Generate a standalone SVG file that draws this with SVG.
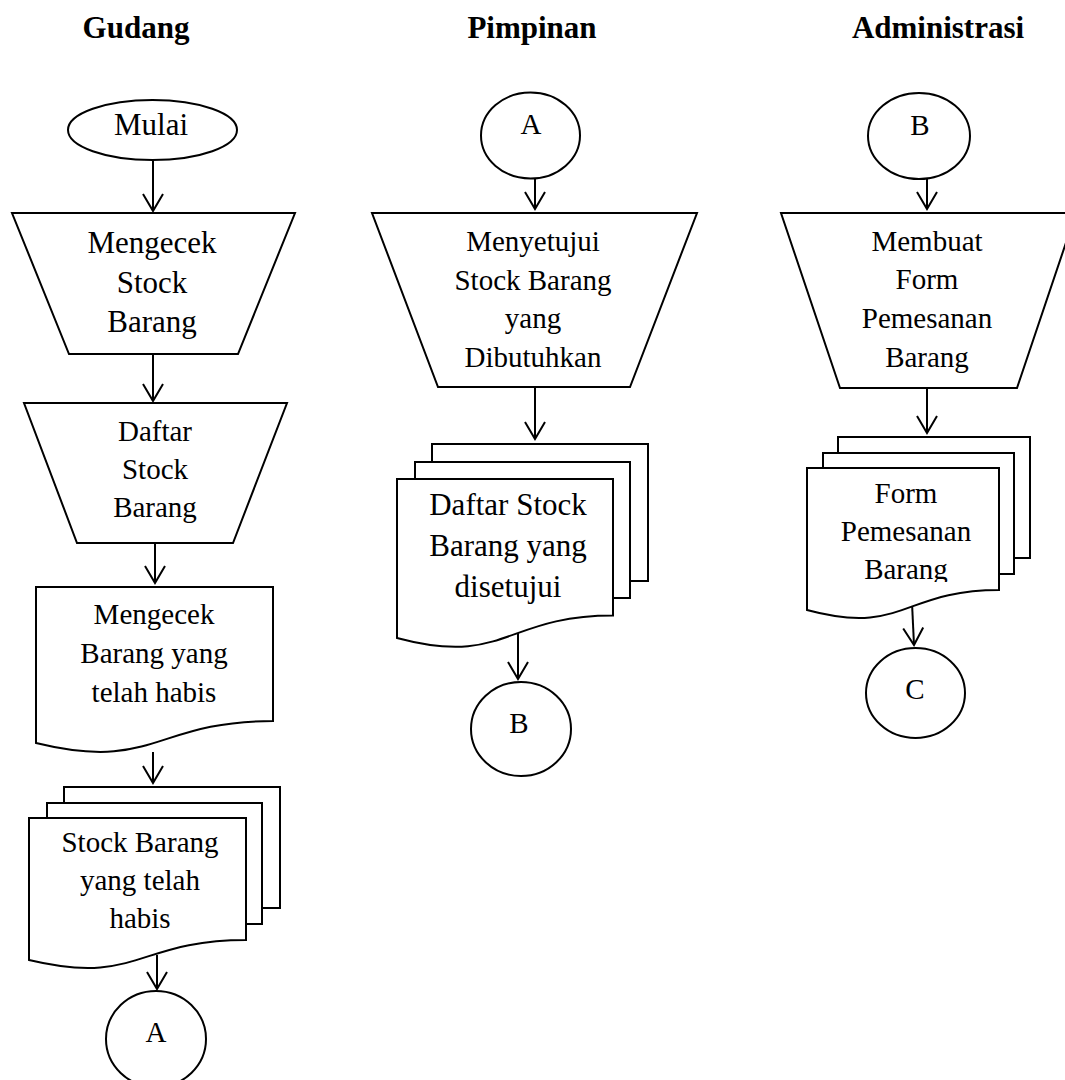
<svg xmlns="http://www.w3.org/2000/svg" width="1065" height="1080" viewBox="0 0 1065 1080">
<style>
.s{fill:#fff;stroke:#000;stroke-width:2}
.t{font-family:"Liberation Serif","Times New Roman",serif;font-size:29px;fill:#000;text-anchor:middle}
.tl{font-size:31px}
.h{font-family:"Liberation Serif","Times New Roman",serif;font-size:31px;font-weight:bold;fill:#000;text-anchor:middle}
.c{fill:none;stroke:#000;stroke-width:2;marker-end:url(#ah)}
</style>
<defs>
<marker id="ah" markerUnits="userSpaceOnUse" markerWidth="24" markerHeight="24" viewBox="-20 -12 24 24" refX="0" refY="0" orient="auto">
<path d="M-17,-10 L0,0 L-17,10" fill="none" stroke="#000" stroke-width="2"/>
</marker>
<clipPath id="clipA"><rect x="800" y="460" width="220" height="122"/></clipPath>
</defs>
<rect width="1065" height="1080" fill="#fff"/>
<g id="titles">
<text class="h" x="136" y="38">Gudang</text>
<text class="h" x="532" y="38">Pimpinan</text>
<text class="h" x="938" y="38">Administrasi</text>
</g>
<g id="connectors">
<line class="c" x1="153" y1="160" x2="153" y2="211"/>
<line class="c" x1="153" y1="354" x2="153" y2="401"/>
<line class="c" x1="155" y1="543" x2="155" y2="583"/>
<line class="c" x1="153" y1="752" x2="153" y2="783"/>
<line class="c" x1="157" y1="955" x2="157" y2="989"/>
<line class="c" x1="535" y1="178" x2="535" y2="209"/>
<line class="c" x1="535" y1="387" x2="535" y2="439"/>
<line class="c" x1="518" y1="633" x2="518" y2="679"/>
<line class="c" x1="927" y1="179" x2="927" y2="209"/>
<line class="c" x1="927" y1="388" x2="927" y2="433"/>
<line class="c" x1="912" y1="603" x2="914" y2="645"/>
</g>
<g id="g-mulai">
<ellipse class="s" cx="152.5" cy="130" rx="84.5" ry="30"/>
<text class="t tl" x="151" y="135">Mulai</text>
</g>
<g id="g-mengecek-stock">
<polygon class="s" points="12,213 295,213 238,354 69,354"/>
<text class="t tl" x="152" y="253">Mengecek</text>
<text class="t tl" x="152" y="293">Stock</text>
<text class="t tl" x="152" y="332">Barang</text>
</g>
<g id="g-daftar-stock">
<polygon class="s" points="24,403 287,403 233,543 77,543"/>
<text class="t" x="155" y="441">Daftar</text>
<text class="t" x="155" y="479">Stock</text>
<text class="t" x="155" y="517">Barang</text>
</g>
<g id="g-mengecek-barang">
<path class="s" d="M36,587 H273 V721 C154.5,721 154.5,772 36,743 Z"/>
<text class="t" x="154" y="624">Mengecek</text>
<text class="t" x="154" y="663">Barang yang</text>
<text class="t" x="154" y="702">telah habis</text>
</g>
<g id="g-stock-habis">
<rect class="s" x="64" y="787" width="216" height="121"/>
<rect class="s" x="47" y="803" width="215" height="121"/>
<path class="s" d="M29,818 H246 V940 C137.5,940 137.5,986 29,960 Z"/>
<text class="t" x="140" y="852">Stock Barang</text>
<text class="t" x="140" y="890">yang telah</text>
<text class="t" x="140" y="928">habis</text>
</g>
<g id="g-conn-a1">
<ellipse class="s" cx="156" cy="1039" rx="50" ry="48"/>
<text class="t" x="156" y="1042">A</text>
</g>
<g id="p-conn-a">
<ellipse class="s" cx="530.5" cy="135.5" rx="49.5" ry="43"/>
<text class="t" x="531" y="134">A</text>
</g>
<g id="p-menyetujui">
<polygon class="s" points="372,213 697,213 630,387 438,387"/>
<text class="t" x="533" y="251">Menyetujui</text>
<text class="t" x="533" y="290">Stock Barang</text>
<text class="t" x="533" y="328">yang</text>
<text class="t" x="533" y="367">Dibutuhkan</text>
</g>
<g id="p-daftar-disetujui">
<rect class="s" x="432" y="444" width="216" height="137"/>
<rect class="s" x="415" y="462" width="215" height="136"/>
<path class="s" d="M397,479 H613 V615.5 C505,615.5 505,667 397,638 Z"/>
<text class="t tl" x="508" y="515">Daftar Stock</text>
<text class="t tl" x="508" y="556">Barang yang</text>
<text class="t tl" x="508" y="597">disetujui</text>
</g>
<g id="p-conn-b">
<ellipse class="s" cx="521" cy="729" rx="50" ry="47"/>
<text class="t" x="519" y="733">B</text>
</g>
<g id="a-conn-b">
<ellipse class="s" cx="919" cy="136" rx="51" ry="43"/>
<text class="t" x="920" y="135">B</text>
</g>
<g id="a-membuat-form">
<polygon class="s" points="781,213 1076,213 1017,388 840,388"/>
<text class="t" x="927" y="251">Membuat</text>
<text class="t" x="927" y="289">Form</text>
<text class="t" x="927" y="328">Pemesanan</text>
<text class="t" x="927" y="367">Barang</text>
</g>
<g id="a-form-pemesanan">
<rect class="s" x="838" y="437" width="192" height="121"/>
<rect class="s" x="823" y="453" width="191" height="121"/>
<path class="s" d="M807,468 H999 V590 C903,590 903,636 807,610 Z"/>
<text class="t" x="906" y="503">Form</text>
<text class="t" x="906" y="541">Pemesanan</text>
<text class="t" x="906" y="579" clip-path="url(#clipA)">Barang</text>
</g>
<g id="a-conn-c">
<ellipse class="s" cx="915.5" cy="693" rx="49.5" ry="45"/>
<text class="t" x="915" y="699">C</text>
</g>
</svg>
